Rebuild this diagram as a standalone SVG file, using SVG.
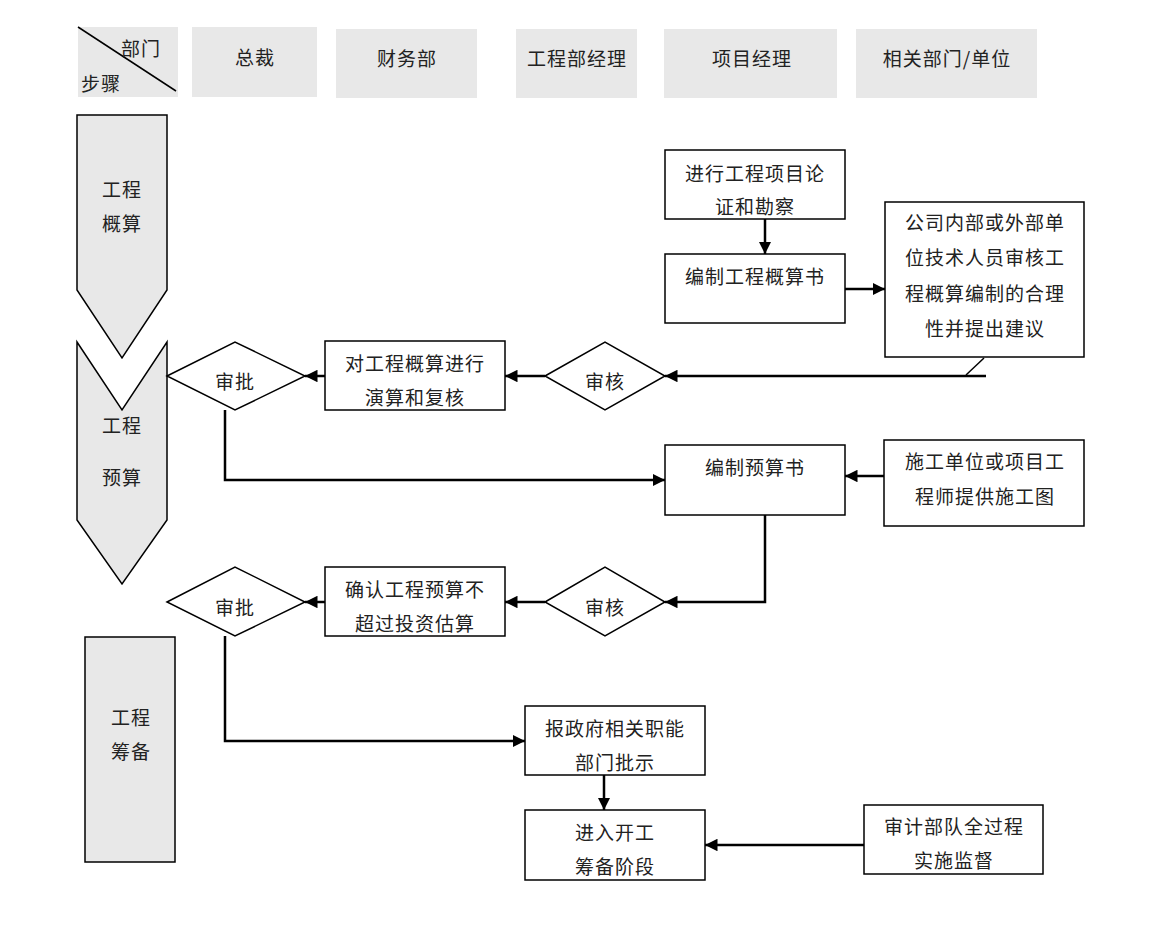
<svg xmlns="http://www.w3.org/2000/svg" width="1157" height="951" viewBox="0 0 1157 951">
<defs>
<style>
text{font-family:"Noto Sans CJK SC","Noto Sans",sans-serif;font-size:19px;letter-spacing:1px;fill:#222;text-anchor:middle;dominant-baseline:central}
.hdr{fill:#e8e8e8;stroke:none}
.stage{fill:#e8e8e8;stroke:#000;stroke-width:1.5}
.box{fill:#fff;stroke:#000;stroke-width:1.5}
.con{fill:none;stroke:#000;stroke-width:2.5}
</style>
<marker id="ah" viewBox="0 0 10 10" refX="10" refY="5" markerWidth="5" markerHeight="5" orient="auto" markerUnits="strokeWidth"><path d="M0,0 L10,5 L0,10 z" fill="#000"/></marker>
</defs>
<rect width="1157" height="951" fill="#fff"/>
<g id="header">
<g id="h-corner"><rect class="hdr" x="78" y="27" width="100" height="70"/><line x1="78" y1="27" x2="176" y2="91" stroke="#000" stroke-width="1.5"/><text x="141" y="47">部门</text><text x="101" y="82">步骤</text></g>
<g id="h-zongcai"><rect class="hdr" x="192" y="27" width="125" height="70"/><text x="255" y="56">总裁</text></g>
<g id="h-caiwu"><rect class="hdr" x="336" y="29" width="141" height="69"/><text x="407" y="57">财务部</text></g>
<g id="h-gcbjl"><rect class="hdr" x="516" y="29" width="121" height="69"/><text x="577" y="57">工程部经理</text></g>
<g id="h-xmjl"><rect class="hdr" x="664" y="29" width="173" height="69"/><text x="752" y="57">项目经理</text></g>
<g id="h-xgbm"><rect class="hdr" x="856" y="29" width="181" height="69"/><text x="947" y="57">相关部门/单位</text></g>
</g>
<g id="stage1"><path class="stage" d="M77,115 L167,115 L167,290 L122,358 L77,290 Z"/><text x="122" y="188">工程</text><text x="122" y="222">概算</text></g>
<g id="stage2"><path class="stage" d="M77,342 L122,410 L167,342 L167,520 L122,584 L77,520 Z"/><text x="122" y="424">工程</text><text x="122" y="476">预算</text></g>
<g id="stage3"><rect class="stage" x="85" y="637" width="90" height="225"/><text x="131" y="716">工程</text><text x="131" y="750">筹备</text></g>
<g id="connectors">
<line class="con" x1="765" y1="219" x2="765" y2="254" marker-end="url(#ah)"/>
<line class="con" x1="845" y1="289" x2="885" y2="289" marker-end="url(#ah)"/>
<line x1="984" y1="358" x2="966" y2="375" stroke="#000" stroke-width="1.5"/>
<line class="con" x1="986" y1="376" x2="665" y2="376" marker-end="url(#ah)"/>
<line class="con" x1="545" y1="376" x2="505" y2="376" marker-end="url(#ah)"/>
<line class="con" x1="325" y1="376" x2="305" y2="376" marker-end="url(#ah)"/>
<polyline class="con" points="225,410 225,480 665,480" marker-end="url(#ah)"/>
<line class="con" x1="884" y1="476" x2="845" y2="476" marker-end="url(#ah)"/>
<polyline class="con" points="765,515 765,602 665,602" marker-end="url(#ah)"/>
<line class="con" x1="545" y1="602" x2="505" y2="602" marker-end="url(#ah)"/>
<line class="con" x1="325" y1="602" x2="305" y2="602" marker-end="url(#ah)"/>
<polyline class="con" points="225,636 225,741 525,741" marker-end="url(#ah)"/>
<line class="con" x1="604" y1="775" x2="604" y2="810" marker-end="url(#ah)"/>
<line class="con" x1="864" y1="845" x2="705" y2="845" marker-end="url(#ah)"/>
</g>
<g id="n-lunzheng"><rect class="box" x="665" y="150" width="180" height="69"/><text x="755" y="172">进行工程项目论</text><text x="755" y="205">证和勘察</text></g>
<g id="n-gaisuanshu"><rect class="box" x="665" y="254" width="180" height="69"/><text x="755" y="275">编制工程概算书</text></g>
<g id="n-shenhe-gs"><rect class="box" x="885" y="202" width="199" height="155"/><text x="985" y="221">公司内部或外部单</text><text x="985" y="256">位技术人员审核工</text><text x="985" y="292">程概算编制的合理</text><text x="985" y="327">性并提出建议</text></g>
<g id="d-shenhe1"><polygon class="box" points="545,376 605,342 665,376 605,410"/><text x="605" y="380">审核</text></g>
<g id="n-yansuan"><rect class="box" x="325" y="341" width="180" height="69"/><text x="415" y="362">对工程概算进行</text><text x="415" y="396">演算和复核</text></g>
<g id="d-shenpi1"><polygon class="box" points="167,376 235,342 305,376 235,410"/><text x="235" y="380">审批</text></g>
<g id="n-yusuanshu"><rect class="box" x="665" y="445" width="180" height="70"/><text x="755" y="466">编制预算书</text></g>
<g id="n-shigongtu"><rect class="box" x="884" y="440" width="200" height="86"/><text x="985" y="460">施工单位或项目工</text><text x="985" y="495">程师提供施工图</text></g>
<g id="d-shenhe2"><polygon class="box" points="545,602 605,567 665,602 605,636"/><text x="605" y="606">审核</text></g>
<g id="n-queren"><rect class="box" x="325" y="567" width="180" height="69"/><text x="415" y="588">确认工程预算不</text><text x="415" y="622">超过投资估算</text></g>
<g id="d-shenpi2"><polygon class="box" points="167,602 235,567 305,602 235,636"/><text x="235" y="606">审批</text></g>
<g id="n-zhengfu"><rect class="box" x="525" y="706" width="180" height="69"/><text x="615" y="727">报政府相关职能</text><text x="615" y="761">部门批示</text></g>
<g id="n-kaigong"><rect class="box" x="525" y="810" width="180" height="70"/><text x="615" y="831">进入开工</text><text x="615" y="865">筹备阶段</text></g>
<g id="n-shenji"><rect class="box" x="864" y="805" width="179" height="69"/><text x="954" y="825">审计部队全过程</text><text x="954" y="859">实施监督</text></g>
</svg>
